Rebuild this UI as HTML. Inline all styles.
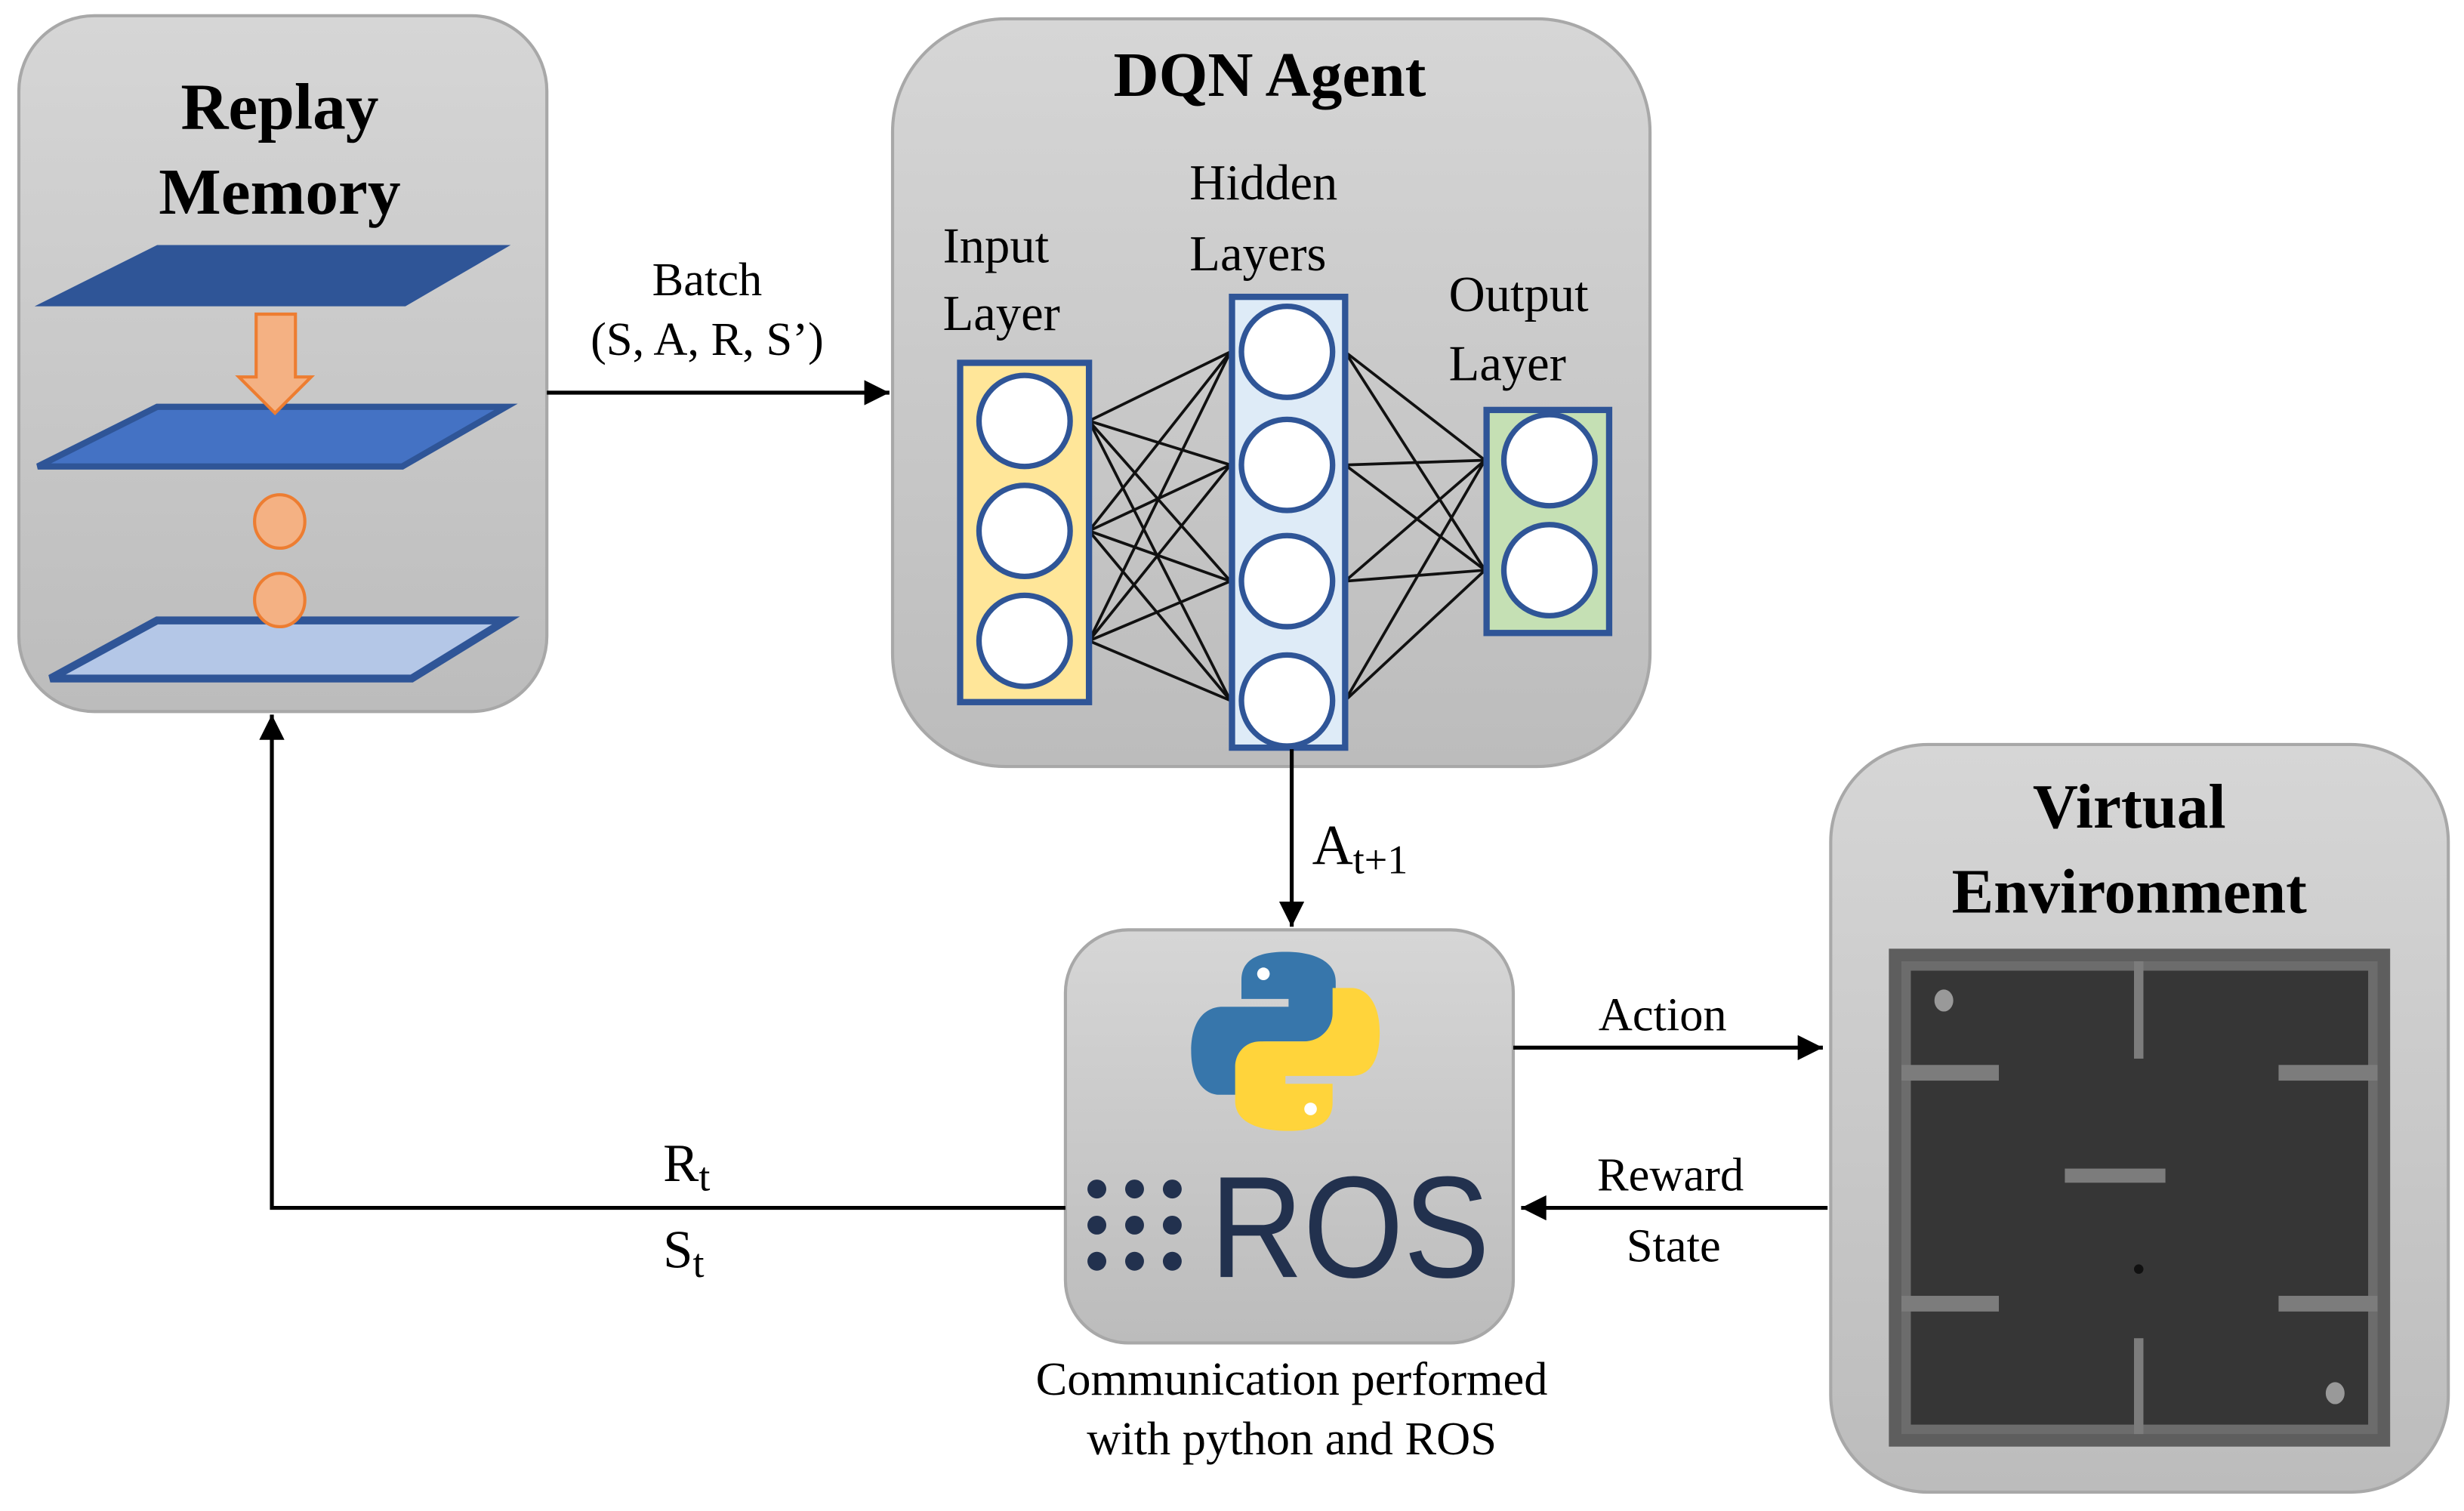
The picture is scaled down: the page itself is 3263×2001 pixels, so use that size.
<!DOCTYPE html>
<html><head><meta charset="utf-8"><style>
html,body{margin:0;padding:0;background:#fff;}
svg{display:block;}
text{font-family:"Liberation Serif","Times New Roman",serif;fill:#000;}
</style></head><body>
<svg width="3263" height="2001" viewBox="0 0 1568 962" preserveAspectRatio="none" xmlns="http://www.w3.org/2000/svg">
<defs>
<linearGradient id="g" x1="0" y1="0" x2="0" y2="1"><stop offset="0" stop-color="#d6d6d6"/><stop offset="1" stop-color="#bcbcbc"/></linearGradient>
<marker id="ah" viewBox="0 0 10 10" refX="10" refY="5" markerWidth="20" markerHeight="16" orient="auto" markerUnits="userSpaceOnUse"><path d="M0,0 L10,5 L0,10 z" fill="#000"/></marker>
</defs>
<g stroke="#a8a8a8" stroke-width="2" fill="url(#g)">
<rect x="12" y="10" width="336" height="443" rx="48"/>
<rect x="568" y="12" width="482" height="476" rx="72"/>
<rect x="678" y="592" width="285" height="263" rx="40"/>
<rect x="1165" y="474" width="393" height="476" rx="62"/>
</g>
<text x="178" y="82" font-size="42" font-weight="bold" text-anchor="middle">Replay</text>
<text x="178" y="136" font-size="42" font-weight="bold" text-anchor="middle">Memory</text>
<polygon points="22,195 100,156 325,156 258,195" fill="#2f5597"/>
<polygon points="24,297 100,259 322,259 256,297" fill="#4472c4" stroke="#2f5597" stroke-width="4"/>
<polygon points="32,432 100,395 322,395 262,432" fill="#b4c7e7" stroke="#2f5597" stroke-width="5"/>
<polygon points="163,200 188,200 188,240 198,240 175,263 152,240 163,240" fill="#f4b183" stroke="#ed7d31" stroke-width="2"/>
<ellipse cx="178" cy="332" rx="16" ry="17" fill="#f4b183" stroke="#ed7d31" stroke-width="2"/>
<ellipse cx="178" cy="382" rx="16" ry="17" fill="#f4b183" stroke="#ed7d31" stroke-width="2"/>
<line x1="348" y1="250" x2="566" y2="250" stroke="#000" stroke-width="2.5" marker-end="url(#ah)"/>
<text x="450" y="188" font-size="30" text-anchor="middle">Batch</text>
<text x="450" y="226" font-size="30" text-anchor="middle">(S, A, R, S’)</text>
<text x="808" y="61" font-size="40" font-weight="bold" text-anchor="middle">DQN Agent</text>
<text x="600" y="167" font-size="32">Input</text>
<text x="600" y="210" font-size="32">Layer</text>
<text x="757" y="127" font-size="32">Hidden</text>
<text x="757" y="172" font-size="32">Layers</text>
<text x="922" y="198" font-size="32">Output</text>
<text x="922" y="242" font-size="32">Layer</text>
<g stroke="#111" stroke-width="1.8">
<line x1="693" y1="268" x2="783" y2="224"/><line x1="693" y1="268" x2="783" y2="296"/><line x1="693" y1="268" x2="783" y2="370"/><line x1="693" y1="268" x2="783" y2="446"/>
<line x1="693" y1="338" x2="783" y2="224"/><line x1="693" y1="338" x2="783" y2="296"/><line x1="693" y1="338" x2="783" y2="370"/><line x1="693" y1="338" x2="783" y2="446"/>
<line x1="693" y1="408" x2="783" y2="224"/><line x1="693" y1="408" x2="783" y2="296"/><line x1="693" y1="408" x2="783" y2="370"/><line x1="693" y1="408" x2="783" y2="446"/>
<line x1="856" y1="224" x2="945" y2="293"/><line x1="856" y1="224" x2="945" y2="363"/>
<line x1="856" y1="296" x2="945" y2="293"/><line x1="856" y1="296" x2="945" y2="363"/>
<line x1="856" y1="370" x2="945" y2="293"/><line x1="856" y1="370" x2="945" y2="363"/>
<line x1="856" y1="446" x2="945" y2="293"/><line x1="856" y1="446" x2="945" y2="363"/>
</g>
<g stroke="#2f5597" stroke-width="4">
<rect x="611" y="231" width="82" height="216" fill="#ffe699"/>
<rect x="784" y="189" width="72" height="287" fill="#deebf7"/>
<rect x="946" y="261" width="78" height="142" fill="#c5e0b4"/>
<g fill="#fff" stroke-width="3.5">
<circle cx="652" cy="268" r="29"/><circle cx="652" cy="338" r="29"/><circle cx="652" cy="408" r="29"/>
<circle cx="819" cy="224" r="29"/><circle cx="819" cy="296" r="29"/><circle cx="819" cy="370" r="29"/><circle cx="819" cy="446" r="29"/>
<circle cx="986" cy="293" r="29"/><circle cx="986" cy="363" r="29"/>
</g></g>
<line x1="822" y1="477" x2="822" y2="590" stroke="#000" stroke-width="2.5" marker-end="url(#ah)"/>
<text x="835" y="550" font-size="36">A<tspan font-size="26" dy="6">t+1</tspan></text>
<g>
<path d="M818,606 c-22,0 -28,8 -28,18 v12 h30 v5 h-42 c-12,0 -20,10 -20,28 c0,18 8,28 18,28 h12 v-16 c0,-10 8,-18 18,-18 h28 c10,0 16,-8 16,-16 v-22 c0,-12 -12,-19 -32,-19 z" fill="#3776ab"/>
<path d="M820,720 c22,0 28,-8 28,-18 v-12 h-30 v-5 h42 c12,0 18,-10 18,-28 c0,-18 -8,-28 -18,-28 h-12 v16 c0,10 -8,18 -18,18 h-28 c-10,0 -16,8 -16,16 v22 c0,12 12,19 34,19 z" fill="#ffd43b"/>
<circle cx="804" cy="620" r="4" fill="#fff"/><circle cx="834" cy="706" r="4" fill="#fff"/>
<g fill="#22314e">
<circle cx="698" cy="757" r="6"/><circle cx="722" cy="757" r="6"/><circle cx="746" cy="757" r="6"/>
<circle cx="698" cy="780" r="6"/><circle cx="722" cy="780" r="6"/><circle cx="746" cy="780" r="6"/>
<circle cx="698" cy="803" r="6"/><circle cx="722" cy="803" r="6"/><circle cx="746" cy="803" r="6"/>
</g>
<text x="770" y="813" font-size="92" style="font-family:'Liberation Sans',sans-serif;fill:#22314e" textLength="178" lengthAdjust="spacingAndGlyphs">ROS</text>
</g>
<text x="822" y="888" font-size="30" text-anchor="middle">Communication performed</text>
<text x="822" y="926" font-size="30" text-anchor="middle">with python and ROS</text>
<line x1="963" y1="667" x2="1160" y2="667" stroke="#000" stroke-width="2.5" marker-end="url(#ah)"/>
<text x="1058" y="656" font-size="30" text-anchor="middle">Action</text>
<line x1="1163" y1="769" x2="968" y2="769" stroke="#000" stroke-width="2.5" marker-end="url(#ah)"/>
<text x="1063" y="758" font-size="30" text-anchor="middle">Reward</text>
<text x="1065" y="803" font-size="30" text-anchor="middle">State</text>
<polyline points="678,769 173,769 173,455" fill="none" stroke="#000" stroke-width="2.5" marker-end="url(#ah)"/>
<text x="422" y="752" font-size="34">R<tspan font-size="26" dy="6">t</tspan></text>
<text x="422" y="807" font-size="34">S<tspan font-size="26" dy="6">t</tspan></text>
<text x="1355" y="527" font-size="40" font-weight="bold" text-anchor="middle">Virtual</text>
<text x="1355" y="581" font-size="40" font-weight="bold" text-anchor="middle">Environment</text>
<rect x="1202" y="604" width="319" height="317" fill="#5e5e5e"/>
<rect x="1210" y="612" width="303" height="301" fill="#6c6c6c"/>
<rect x="1216" y="618" width="291" height="289" fill="#363636"/>
<g fill="#7c7c7c">
<rect x="1358" y="612" width="6" height="62"/>
<rect x="1358" y="852" width="6" height="61"/>
<rect x="1210" y="678" width="62" height="10"/>
<rect x="1450" y="678" width="63" height="10"/>
<rect x="1210" y="825" width="62" height="10"/>
<rect x="1450" y="825" width="63" height="10"/>
<rect x="1314" y="744" width="64" height="9"/>
</g>
<ellipse cx="1237" cy="637" rx="6" ry="7" fill="#999"/>
<ellipse cx="1486" cy="887" rx="6" ry="7" fill="#999"/>
<circle cx="1361" cy="808" r="3" fill="#111"/>
</svg>
</body></html>
